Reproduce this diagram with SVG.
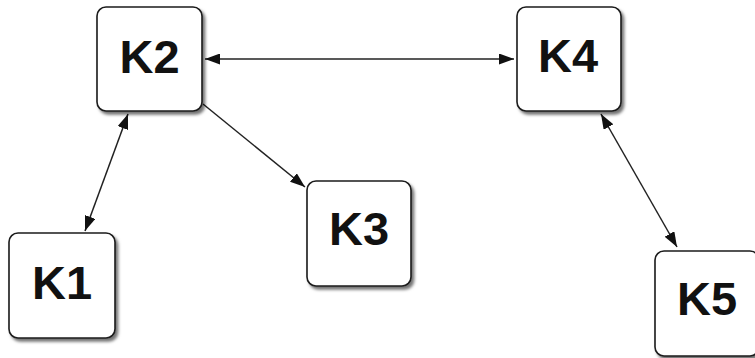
<svg xmlns="http://www.w3.org/2000/svg" width="755" height="358" viewBox="0 0 755 358">
  <style>
    .box { fill: #ffffff; stroke: #1a1a1a; stroke-width: 1.6; filter: url(#shadow); }
    .label { font-family: "Liberation Sans", Arial, sans-serif; font-weight: bold; font-size: 47px; fill: #111111; text-anchor: middle; }
    .edge { fill: none; stroke: #222222; stroke-width: 1.5; marker-start: url(#head); marker-end: url(#head); }
    .edge.one { marker-start: none; }
  </style>
  <defs>
    <filter id="shadow" x="-10%" y="-10%" width="130%" height="130%">
      <feDropShadow dx="2.5" dy="3" stdDeviation="1.8" flood-color="#000000" flood-opacity="0.55"/>
    </filter>
    <marker id="head" viewBox="0 0 15 11" refX="15" refY="5.5" markerWidth="15" markerHeight="11" markerUnits="userSpaceOnUse" orient="auto-start-reverse">
      <path d="M0,0 L15,5.5 L0,11 z" fill="#111111"/>
    </marker>
  </defs>
  <rect width="755" height="358" fill="#ffffff"/>

  <!-- connectors -->
  <g id="edges">
    <line class="edge" x1="205" y1="59" x2="514" y2="59"/>
    <line class="edge one" x1="203" y1="104" x2="305" y2="187"/>
    <line class="edge" x1="128" y1="114" x2="85" y2="231"/>
    <line class="edge" x1="601" y1="114" x2="677" y2="247"/>
  </g>

  <g id="K2">
    <rect class="box" x="97" y="7" width="105" height="104" rx="9"/>
    <text class="label" x="149.5" y="73">K2</text>
  </g>
  <g id="K4">
    <rect class="box" x="517" y="7" width="104" height="104" rx="9"/>
    <text class="label" x="568" y="72">K4</text>
  </g>
  <g id="K3">
    <rect class="box" x="307" y="181" width="104" height="105" rx="9"/>
    <text class="label" x="359" y="245">K3</text>
  </g>
  <g id="K1">
    <rect class="box" x="9" y="233" width="106" height="105" rx="9"/>
    <text class="label" x="62" y="299">K1</text>
  </g>
  <g id="K5">
    <rect class="box" x="655" y="251" width="104" height="105" rx="9"/>
    <text class="label" x="707" y="315">K5</text>
  </g>
</svg>
